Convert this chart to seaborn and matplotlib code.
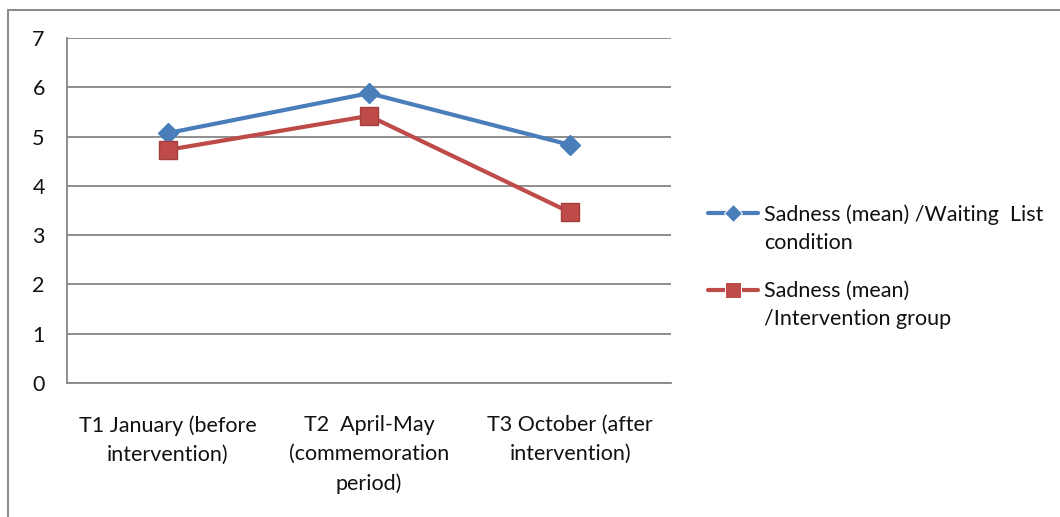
import matplotlib
matplotlib.use("Agg")
import matplotlib.pyplot as plt
import seaborn as sns
import pandas as pd
from matplotlib.patches import Rectangle

# data
time_points = ["T1 January (before\nintervention)",
               "T2  April-May\n(commemoration\nperiod)",
               "T3 October (after\nintervention)"]
waiting_list = [5.07, 5.88, 4.83]
intervention = [4.73, 5.42, 3.46]
series_names = ["Sadness (mean) /Waiting  List\ncondition",
                "Sadness (mean)\n/Intervention group"]

df = pd.DataFrame({
    "time": time_points * 2,
    "pos": list(range(len(time_points))) * 2,
    "sadness": waiting_list + intervention,
    "series": [series_names[0]] * 3 + [series_names[1]] * 3,
})

sns.set_style("white")
plt.rcParams["font.family"] = ["Lato", "DejaVu Sans"]
FS = 15.5
TXT = "#111111"

fig = plt.figure(figsize=(10.6, 5.17), dpi=100)
ax = fig.add_axes([67 / 1060, 134 / 517, 604 / 1060, 345 / 517])

palette = {series_names[0]: "#4A7EBB", series_names[1]: "#BE4B48"}
sns.lineplot(data=df, x="pos", y="sadness", hue="series", style="series",
             markers={series_names[0]: "D", series_names[1]: "s"},
             dashes=False, palette=palette, linewidth=3, markersize=11,
             ax=ax)
for line, ms, ec in zip(ax.lines, [10, 13], ["#4A7EBB", "#A33F3C"]):
    line.set_markersize(ms)
    line.set_markeredgecolor(ec)
    line.set_markeredgewidth(1)

ax.set_xlim(-0.5, 2.5)
ax.set_ylim(0, 7)
ax.set_yticks(range(0, 8))
ax.set_xticks(range(3))
ax.set_xticklabels(time_points, linespacing=1.58)
ax.set_xticks([-0.5, 0.5, 1.5, 2.5], minor=True)
ax.tick_params(axis="x", which="major", length=0, pad=23, labelsize=FS, colors=TXT)
ax.tick_params(axis="x", which="minor", length=6, width=1.3, color="#868686", direction="out")
ax.tick_params(axis="y", length=6, width=1.3, color="#868686", direction="out",
               pad=10, labelsize=FS, labelcolor=TXT)
ax.set_xlabel("")
ax.set_ylabel("")
ax.grid(axis="y", color="#868686", linewidth=1.3)
ax.set_axisbelow(True)
for side in ["top", "right"]:
    ax.spines[side].set_visible(False)
for side in ["left", "bottom"]:
    ax.spines[side].set_color("#868686")
    ax.spines[side].set_linewidth(1.3)

handles, labels = ax.get_legend_handles_labels()
for h, ms in zip(handles, [9, 12]):
    h.set_markersize(ms)
leg = ax.legend(handles, labels, loc="upper left",
                bbox_to_anchor=(689 / 1060, 332 / 517), bbox_transform=fig.transFigure,
                frameon=False, fontsize=FS, handlelength=2.3, handleheight=1.1,
                handletextpad=0.3, labelspacing=1.3)
for t in leg.get_texts():
    t.set_linespacing(1.5)
    t.set_color(TXT)
for col in leg._legend_handle_box.get_children():
    for item in col.get_children():
        item.align = "top"

# outer chart-area frame
fig.patches.append(Rectangle((8 / 1060, -0.1), 1.2, (507 / 517) + 0.1,
                             transform=fig.transFigure, fill=False,
                             edgecolor="#8c8c8c", linewidth=1.5))

fig.savefig("out.png", dpi=100)
